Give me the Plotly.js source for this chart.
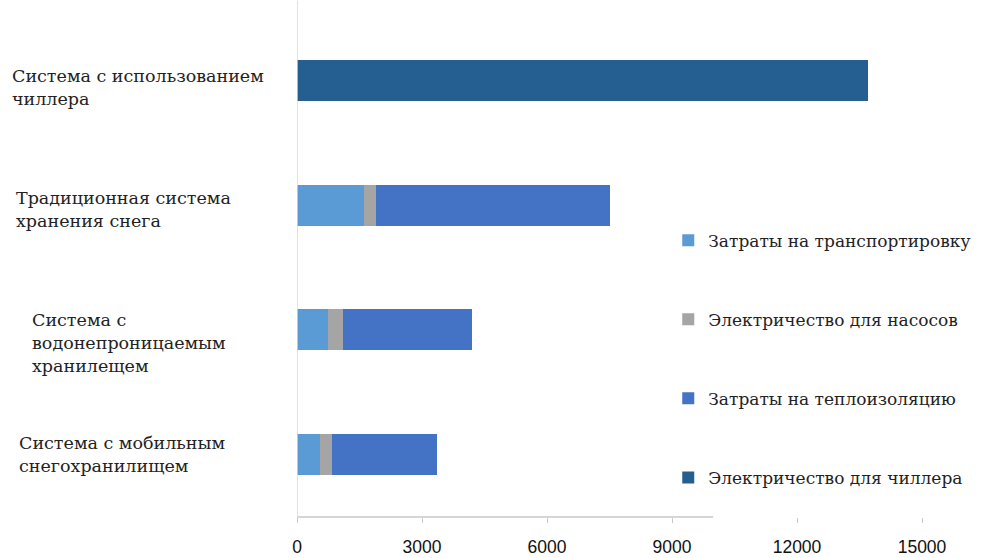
<!DOCTYPE html>
<html>
<head>
<meta charset="utf-8">
<script src="https://cdn.plot.ly/plotly-3.0.1.min.js"></script>
<style>
  html, body { margin: 0; padding: 0; background: #ffffff; }
  #chart { width: 983px; height: 558px; }
</style>
</head>
<body>
<div id="chart"></div>
<script>
// Systems, top to bottom
const systems = [
  'Система с использованием чиллера',
  'Традиционная система хранения снега',
  'Система с водонепроницаемым хранилещем',
  'Система с мобильным снегохранилищем'
];
// Label text with the line breaks used beside each bar
const systemLabels = [
  'Система с использованием<br>чиллера',
  'Традиционная система<br>хранения снега',
  'Система с<br>водонепроницаемым<br>хранилещем',
  'Система с мобильным<br>снегохранилищем'
];
const labelOffsetX = [10, 14, 30, 17];

// Cost components per system
const transport  = [0, 1600, 750, 550];
const pumps      = [0, 300, 350, 280];
const insulation = [0, 5600, 3100, 2520];
const chiller    = [13700, 0, 0, 0];

const seriesNames = [
  'Затраты на транспортировку',
  'Электричество для насосов',
  'Затраты на теплоизоляцию',
  'Электричество для чиллера'
];
const seriesValues = [transport, pumps, insulation, chiller];
const seriesColors = ['#5b9bd5', '#a5a5a5', '#4472c4', '#255e91'];

const xTicks = [0, 3000, 6000, 9000, 12000, 15000];

const traces = seriesNames.map((name, i) => ({
  type: 'bar',
  orientation: 'h',
  name: name,
  legendgroup: 'g' + i,
  x: seriesValues[i],
  y: systems,
  marker: { color: seriesColors[i], line: { width: 0 } },
  hoverinfo: 'x+name'
}));

const annotations = systems.map((s, i) => ({
  xref: 'paper', yref: 'y',
  x: -297 / 625 + labelOffsetX[i] / 625,
  y: s,
  xanchor: 'left',
  yanchor: 'middle',
  align: 'left',
  text: systemLabels[i],
  showarrow: false,
  yshift: [-7, -4, -13, 0][i],
  font: { family: 'DejaVu Serif', size: 17.5, color: '#222222' }
}));

const layout = {
  width: 983,
  height: 558,
  margin: { l: 297, r: 61, t: 17.5, b: 40.5, autoexpand: false },
  paper_bgcolor: '#ffffff',
  plot_bgcolor: '#ffffff',
  barmode: 'stack',
  bargap: 0.67,
  showlegend: true,
  legend: {
    x: 0.594, y: 0.59,
    xanchor: 'left', yanchor: 'top',
    traceorder: 'grouped',
    tracegroupgap: 54,
    bgcolor: 'rgba(255,255,255,0)',
    itemwidth: 30,
    font: { family: 'DejaVu Serif', size: 17, color: '#222222' }
  },
  xaxis: {
    range: [0, 15000],
    tickvals: xTicks,
    ticktext: xTicks.map(String),
    showgrid: false,
    zeroline: false,
    showline: false,
    ticks: 'outside',
    ticklen: 5,
    tickcolor: '#c8c8c8',
    ticklabelstandoff: 9,
    tickfont: { family: 'Liberation Sans', size: 17.5, color: '#111111' },
    fixedrange: true
  },
  yaxis: {
    range: [3.5, -0.5],
    showticklabels: false,
    showgrid: false,
    zeroline: false,
    showline: false,
    ticks: '',
    fixedrange: true
  },
  shapes: [
    {
      type: 'line', xref: 'x', yref: 'paper',
      x0: 0, x1: 9990, y0: 0, y1: 0,
      line: { color: '#c8c8c8', width: 1.5 }
    },
    {
      type: 'line', xref: 'x', yref: 'paper',
      x0: 0, x1: 0, y0: 0, y1: 1.035,
      line: { color: '#d9d9d9', width: 1.5 }
    }
  ],
  annotations: annotations
};

Plotly.newPlot('chart', traces, layout, { displayModeBar: false, staticPlot: true });
</script>
</body>
</html>
